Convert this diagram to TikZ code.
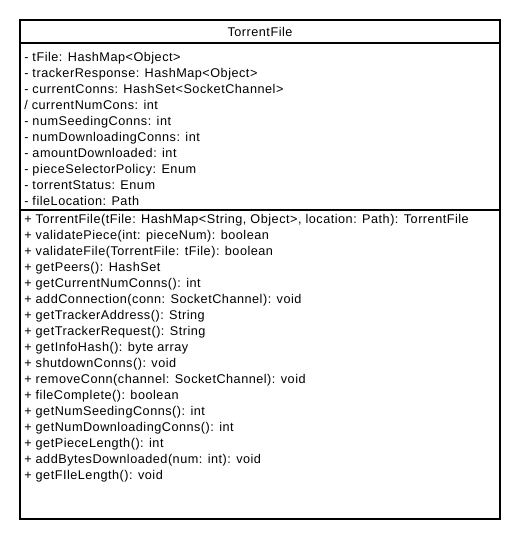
\documentclass[tikz,border=0pt]{standalone}
\usepackage{fontspec}
\setmainfont{Liberation Sans}[LetterSpace=4]
\usetikzlibrary{positioning}

\begin{document}
\begin{tikzpicture}[x=0.75pt, y=-0.75pt, node distance=12pt]
    % Define styles
    \tikzstyle{compartment} = [rectangle, draw, line width=0.8pt, minimum width=360pt, inner sep=0pt, outer sep=0pt, anchor=north west]
    \tikzstyle{member} = [anchor=base west, inner sep=0pt, font=\fontsize{9.5}{12}\selectfont]
    \tikzstyle{classname} = [inner sep=0pt, font=\fontsize{9.5}{12}\selectfont]

    \fill [white] (0,0) rectangle (520,540);
    \useasboundingbox (0,0) rectangle (520,540);

    % Compartments
    \node [compartment, minimum height=17.25pt] (header) at (20,20) {};
    \node [compartment, minimum height=125.25pt, below=0pt of header] (attrs) {};
    \node [compartment, minimum height=231.75pt, below=0pt of attrs] (ops) {};

    % Class name
    \node [classname] (name) at (header.center) {TorrentFile};

    % Attributes
    \node [member] (tfile) at ([shift={(4,18)}]attrs.north west) {- tFile: HashMap<Object>};
    \node [below=of tfile.base west, member] (response) {- trackerResponse: HashMap<Object>};
    \node [below=of response.base west, member] (conns) {- currentConns: HashSet<SocketChannel>};
    \node [below=of conns.base west, member] (numcons) {/ currentNumCons: int};
    \node [below=of numcons.base west, member] (seeding) {- numSeedingConns: int};
    \node [below=of seeding.base west, member] (downloading) {- numDownloadingConns: int};
    \node [below=of downloading.base west, member] (amount) {- amountDownloaded: int};
    \node [below=of amount.base west, member] (policy) {- pieceSelectorPolicy: Enum};
    \node [below=of policy.base west, member] (status) {- torrentStatus: Enum};
    \node [below=of status.base west, member] (location) {- fileLocation: Path};

    % Operations
    \node [member] (ctor) at ([shift={(4,13.5)}]ops.north west) {+ TorrentFile(tFile: HashMap<String, Object>, location: Path): TorrentFile};
    \node [below=of ctor.base west, member] (valpiece) {+ validatePiece(int: pieceNum): boolean};
    \node [below=of valpiece.base west, member] (valfile) {+ validateFile(TorrentFile: tFile): boolean};
    \node [below=of valfile.base west, member] (peers) {+ getPeers(): HashSet};
    \node [below=of peers.base west, member] (curconns) {+ getCurrentNumConns(): int};
    \node [below=of curconns.base west, member] (addconn) {+ addConnection(conn: SocketChannel): void};
    \node [below=of addconn.base west, member] (address) {+ getTrackerAddress(): String};
    \node [below=of address.base west, member] (request) {+ getTrackerRequest(): String};
    \node [below=of request.base west, member] (infohash) {+ getInfoHash(): byte array};
    \node [below=of infohash.base west, member] (shutdown) {+ shutdownConns(): void};
    \node [below=of shutdown.base west, member] (removeconn) {+ removeConn(channel: SocketChannel): void};
    \node [below=of removeconn.base west, member] (complete) {+ fileComplete(): boolean};
    \node [below=of complete.base west, member] (getseeding) {+ getNumSeedingConns(): int};
    \node [below=of getseeding.base west, member] (getdownloading) {+ getNumDownloadingConns(): int};
    \node [below=of getdownloading.base west, member] (piecelength) {+ getPieceLength(): int};
    \node [below=of piecelength.base west, member] (addbytes) {+ addBytesDownloaded(num: int): void};
    \node [below=of addbytes.base west, member] (filelength) {+ getFIleLength(): void};
\end{tikzpicture}
\end{document}
